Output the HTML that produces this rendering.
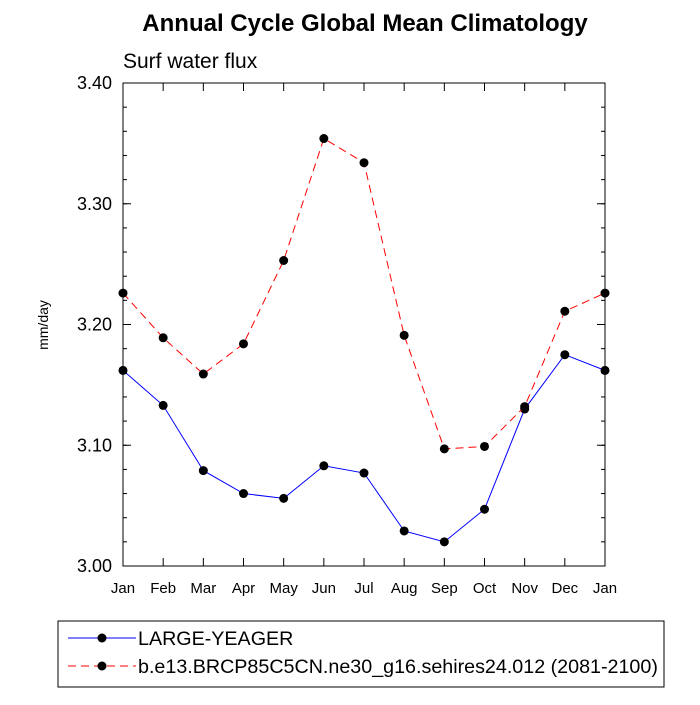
<!DOCTYPE html>
<html><head><meta charset="utf-8"><style>
body{margin:0;background:#fff;}
svg text{font-family:"Liberation Sans",sans-serif;}
</style></head><body>
<svg id="chart" width="700" height="700">
<text x="365" y="31" text-anchor="middle" font-size="24" font-weight="bold">Annual Cycle Global Mean Climatology</text>
<text x="123" y="68" font-size="21">Surf water flux</text>
<text transform="translate(48,325) rotate(-90)" text-anchor="middle" font-size="14">mm/day</text>
<g id="axes"></g>
<g id="series"></g>
<g>
<rect x="58" y="621" width="606" height="66" fill="#fff" stroke="#000" stroke-width="1"/>
<line x1="68" y1="638" x2="136" y2="638" stroke="#00f"/>
<circle cx="102" cy="638" r="4.5" fill="#000"/>
<text x="138" y="645" font-size="19.7">LARGE-YEAGER</text>
<line x1="68" y1="666" x2="136" y2="666" stroke="#f00" stroke-dasharray="8,5"/>
<circle cx="102" cy="666" r="4.5" fill="#000"/>
<text x="138" y="673" font-size="19.7">b.e13.BRCP85C5CN.ne30_g16.sehires24.012 (2081-2100)</text>
</g>
</svg>
<script>
const months=["Jan","Feb","Mar","Apr","May","Jun","Jul","Aug","Sep","Oct","Nov","Dec","Jan"];
const yTicks=[3.00,3.10,3.20,3.30,3.40];
const yTickLabels=["3.00","3.10","3.20","3.30","3.40"];
const largeYeager=[3.162,3.133,3.079,3.060,3.056,3.083,3.077,3.029,3.020,3.047,3.130,3.175,3.162];
const brcp85=[3.226,3.189,3.159,3.184,3.253,3.354,3.334,3.191,3.097,3.099,3.132,3.211,3.226];
const L=123,R=605,T=83,B=566,ymin=3.0,ymax=3.4;
const xs=i=>L+(R-L)*i/(months.length-1);
const ys=v=>B-(v-ymin)/(ymax-ymin)*(B-T);
const NS="http://www.w3.org/2000/svg";
function mk(t,a,p){const e=document.createElementNS(NS,t);for(const k in a)e.setAttribute(k,a[k]);p.appendChild(e);return e;}
const ax=document.getElementById('axes');
const fr=mk('rect',{x:L,y:T,width:R-L,height:B-T,fill:'none',stroke:'#000','stroke-width':1},ax);


months.forEach((m,i)=>{const x=xs(i);
mk('line',{x1:x,y1:B,x2:x,y2:B-8,stroke:'#000'},ax);
mk('line',{x1:x,y1:T,x2:x,y2:T+8,stroke:'#000'},ax);
const t=mk('text',{x:x,y:B+27,'text-anchor':'middle','font-size':15},ax);t.textContent=m;

});
for(let v=ymin;v<=ymax+1e-9;v+=0.02){const y=ys(v);
mk('line',{x1:L,y1:y,x2:L+4,y2:y,stroke:'#000'},ax);
mk('line',{x1:R,y1:y,x2:R-4,y2:y,stroke:'#000'},ax);}
yTicks.forEach((v,i)=>{const y=ys(v);
mk('line',{x1:L,y1:y,x2:L+8,y2:y,stroke:'#000'},ax);
mk('line',{x1:R,y1:y,x2:R-8,y2:y,stroke:'#000'},ax);
const t=mk('text',{x:L-11,y:y+6,'text-anchor':'end','font-size':18},ax);t.textContent=yTickLabels[i];

});
const sg=document.getElementById('series');
function draw(vals,color,dash,name){
const pl=mk('polyline',{points:vals.map((v,i)=>xs(i)+','+ys(v)).join(' '),fill:'none',stroke:color,'stroke-dasharray':dash},sg);


vals.forEach((v,i)=>{const c=mk('circle',{cx:xs(i),cy:ys(v),r:4.5,fill:'#000'},sg);

});}
draw(largeYeager,'#00f','none','large-yeager');
draw(brcp85,'#f00','8,5','brcp85');
</script>
</body></html>
